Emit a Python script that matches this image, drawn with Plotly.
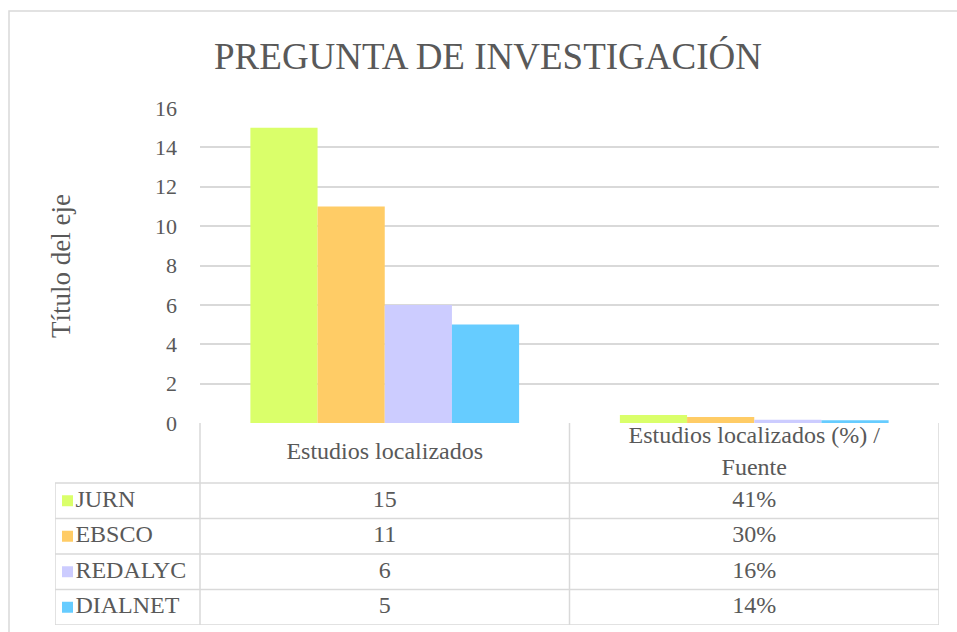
import plotly.graph_objects as go

# datos
categorias = ["Estudios localizados", "Estudios localizados (%) /<br>Fuente"]
fuentes = ["JURN", "EBSCO", "REDALYC", "DIALNET"]
estudios = [15, 11, 6, 5]
porcentajes = [0.41, 0.30, 0.16, 0.14]
colores = ["#DAFF6A", "#FFCC66", "#CCCCFF", "#66CCFF"]
y_ticks = [0, 2, 4, 6, 8, 10, 12, 14, 16]

W, H = 957, 632
FONT = "Liberation Serif"
GRIS = "#595959"
LINEA = "#D9D9D9"

# posiciones en pixeles del area del grafico y de la tabla
px_izq, px_der = 200, 939
py_arriba, py_cero = 108, 423
tabla_izq, tabla_abajo = 55, 625
ancho_cat = (px_der - px_izq) / 2
alto_cab = 1.69

fig = go.Figure()

for nombre, v, p, c in zip(fuentes, estudios, porcentajes, colores):
    fig.add_trace(go.Bar(x=[0, 1], y=[v, p], name=nombre, marker_color=c,
                         marker_line_width=0, showlegend=False, hoverinfo="skip",
                         xaxis="x", yaxis="y"))

# tabla de datos: encabezados
fig.add_trace(go.Scatter(x=[0, 1], y=[-alto_cab / 2] * 2, mode="text", text=categorias,
                         textfont=dict(family=FONT, size=24, color=GRIS),
                         xaxis="x2", yaxis="y2", showlegend=False, hoverinfo="skip"))

# celdas con valores
for i, (v, p) in enumerate(zip(estudios, porcentajes)):
    fig.add_trace(go.Scatter(x=[0, 1], y=[i + 0.5] * 2, mode="text",
                             text=[str(v), f"{p:.0%}"],
                             textfont=dict(family=FONT, size=24, color=GRIS),
                             xaxis="x2", yaxis="y2", showlegend=False, hoverinfo="skip"))

# claves de leyenda en la primera columna
x_clave = -0.5 - (px_izq - 67.5) / ancho_cat
fig.add_trace(go.Scatter(x=[x_clave] * 4, y=[i + 0.5 for i in range(4)], mode="markers+text",
                         marker=dict(symbol="square", size=11, color=colores),
                         text=fuentes, textposition="middle right",
                         textfont=dict(family=FONT, size=24, color=GRIS),
                         xaxis="x2", yaxis="y2", showlegend=False, hoverinfo="skip"))

# lineas de la tabla
x_min = -0.5 - (px_izq - tabla_izq) / ancho_cat
shapes = []
for yy in range(5):
    shapes.append(dict(type="line", xref="x2", yref="y2", x0=x_min, x1=1.5, y0=yy, y1=yy,
                       line=dict(color=LINEA, width=1.5)))
for xx in [-0.5, 0.5, 1.5]:
    shapes.append(dict(type="line", xref="x2", yref="y2", x0=xx, x1=xx, y0=-alto_cab, y1=4,
                       line=dict(color=LINEA, width=1.5)))
shapes.append(dict(type="line", xref="x2", yref="y2", x0=x_min, x1=x_min, y0=0, y1=4,
                   line=dict(color=LINEA, width=1.5)))
# borde del area del grafico
shapes.append(dict(type="rect", xref="paper", yref="paper", x0=9 / W, x1=1.05,
                   y0=-0.05, y1=(H - 11) / H, line=dict(color=LINEA, width=1.5)))

fig.update_layout(
    width=W, height=H,
    margin=dict(l=0, r=0, t=0, b=0, autoexpand=False),
    paper_bgcolor="white", plot_bgcolor="white",
    barmode="group", bargap=1.5 / 5.5, bargroupgap=0,
    font=dict(family=FONT, color=GRIS),
    title=dict(text="PREGUNTA DE INVESTIGACIÓN", x=488 / W, xanchor="center",
               y=(H - 56) / H, yanchor="middle", yref="container",
               font=dict(family=FONT, size=37, color=GRIS)),
    xaxis=dict(domain=[px_izq / W, px_der / W], range=[-0.5, 1.5], showticklabels=False,
               showgrid=False, zeroline=False, showline=False, fixedrange=True),
    yaxis=dict(domain=[(H - py_cero) / H, (H - py_arriba) / H], range=[0, 16],
               tickvals=y_ticks, showgrid=True, gridcolor=LINEA, gridwidth=1.5,
               zeroline=False, showline=False, ticklabelstandoff=22,
               tickfont=dict(family=FONT, size=22, color=GRIS)),
    xaxis2=dict(domain=[tabla_izq / W, px_der / W], range=[x_min, 1.5], visible=False),
    yaxis2=dict(domain=[(H - tabla_abajo) / H, (H - py_cero) / H], range=[4, -alto_cab],
                visible=False),
    shapes=shapes,
    annotations=[dict(text="Título del eje", textangle=-90, xref="paper", yref="paper",
                      x=61 / W, y=(H - 266) / H, xanchor="center", yanchor="middle",
                      showarrow=False, font=dict(family=FONT, size=27, color=GRIS))],
)

# sin margen del body para que la figura ocupe la ventana exacta
fig.write_html("out.html", config={"displayModeBar": False},
               post_script="document.body.style.margin='0';"
                           "document.body.style.overflow='hidden';")
